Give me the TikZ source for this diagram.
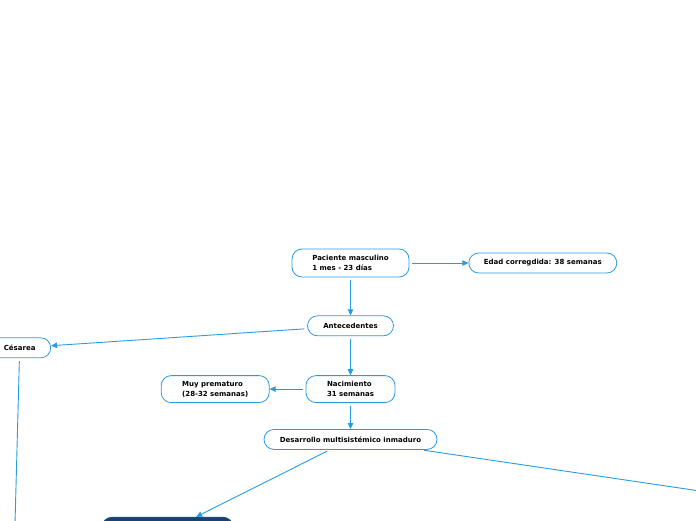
\documentclass[tikz,border=0pt]{standalone}
\usepackage{fontspec}
\setmainfont{DejaVu Sans}
\usepackage{xcolor}
\usepackage{tikz}
\usetikzlibrary{arrows.meta, positioning}
\definecolor{mapblue}{HTML}{2A9BE2}
\definecolor{mapnavy}{HTML}{1B426F}

\begin{document}
\begin{tikzpicture}[
  x=1pt, y=-1pt,
  topic/.style={rectangle, rounded corners=10pt, draw=mapblue, line width=0.8pt, fill=white,
               minimum height=20pt, inner sep=0pt,
               font=\fontsize{7}{10}\selectfont\bfseries, align=left},
  dark/.style={rectangle, rounded corners=10pt, draw=mapnavy!80!mapblue, line width=0.8pt,
               fill=mapnavy, minimum height=28pt, minimum width=131pt},
  arr/.style={-{Triangle[length=6pt, width=5.5pt]}, mapblue, line width=0.9pt, shorten <=3pt},
  link/.style={mapblue, line width=0.9pt, shorten <=3pt},
]
\useasboundingbox (0,0) rectangle (696,520);
\clip (0,0) rectangle (696,520);

\node[topic, minimum width=117pt, minimum height=28pt] (pac) at (350.5,263) {Paciente masculino\\1 mes - 23 días};
\node[topic, minimum width=148pt, right=59pt of pac] (edad) {Edad corregdida: 38 semanas};
\node[topic, minimum width=86pt, below=38pt of pac] (ante) {Antecedentes};
\node[topic, minimum width=62pt, left=256pt of ante, yshift=-22pt] (ces) {Césarea};
\node[topic, minimum width=89pt, minimum height=27pt, below=39pt of ante] (nac) {Nacimiento\\31 semanas};
\node[topic, minimum width=108pt, minimum height=27pt, left=36pt of nac] (muy) {Muy prematuro\\(28-32 semanas)};
\node[topic, minimum width=173pt, below=26pt of nac] (des) {Desarrollo multisistémico inmaduro};
\node[dark, below=67pt of des, xshift=-183pt] (sis) {};

\coordinate (cesend) at (15,524);
\coordinate (desend) at (700,491);

\draw[arr] (pac) -- (edad);
\draw[arr] (pac) -- (ante);
\draw[arr] (ante) -- (ces);
\draw[arr] (ante) -- (nac);
\draw[arr] (nac) -- (muy);
\draw[arr] (nac) -- (des);
\draw[arr] (des) -- (sis);
\draw[link] (des) -- (desend);
\draw[link] (ces) -- (cesend);
\end{tikzpicture}
\end{document}
